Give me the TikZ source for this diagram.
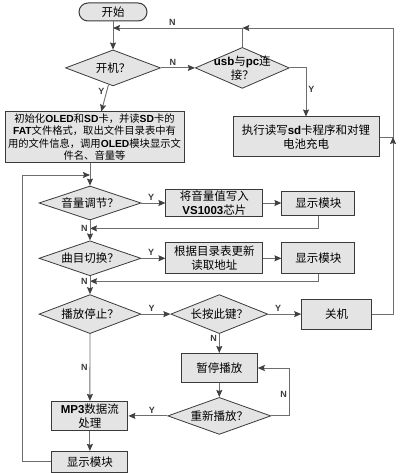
\documentclass[tikz,border=0pt]{standalone}
\usepackage{fontspec}
\setmainfont{Noto Sans CJK SC}
\newfontfamily\latf{Liberation Sans}
\usepackage{tikz}
\usetikzlibrary{arrows.meta,shapes.geometric,positioning,calc}
\definecolor{fundo}{HTML}{E4E4E4}
\definecolor{borda}{HTML}{3A3A3A}
\definecolor{linha}{HTML}{6E6E6E}
\definecolor{ponta}{HTML}{404040}
\tikzset{
  caixa/.style={rectangle, draw=borda, fill=fundo, line width=1pt, align=center,
    inner sep=1pt, font=\fontsize{11.5}{13.5}\selectfont},
  inicio/.style={caixa, rounded corners=9pt, minimum width=68pt, minimum height=18pt},
  losango/.style={diamond, aspect=3, draw=borda, fill=fundo, line width=0.8pt, align=center,
    inner sep=0pt, font=\fontsize{11.5}{13.5}\selectfont},
  seta/.style={-{Stealth[length=7pt,width=6pt,inset=1pt,color=ponta]}, draw=linha, line width=0.9pt},
  rotulo/.style={font=\latf\bfseries\fontsize{9}{10}\selectfont, text=borda, inner sep=2pt},
}
\newcommand{\en}[1]{{\latf\bfseries #1}}

\begin{document}
\begin{tikzpicture}[x=1pt, y=1pt, node distance=18pt and 24pt]
    \useasboundingbox (0,0) rectangle (400,-473);
    \node[inicio] (start) at (113,-12) {开始};
    \node[losango, minimum width=95pt, minimum height=36pt, below=28pt of start] (on) {开机？};
    \node[losango, aspect=2.3, inner xsep=-12pt, minimum width=94pt, minimum height=41pt, right=34pt of on] (usb) {\en{usb}与\en{pc}连\\接？};
    \node[caixa, minimum width=179pt, minimum height=50pt, font=\fontsize{10.3}{12.5}\selectfont] (init) at (94.5,-137)
      {初始化\en{OLED}和\en{SD}卡，并读\en{SD}卡的\\\en{FAT}文件格式，取出文件目录表中有\\用的文件信息，调用\en{OLED}模块显示文\\件名、音量等};
    \node[caixa, minimum width=146pt, minimum height=40pt] (chg) at (306,-137) {执行读写\en{sd}卡程序和对锂\\电池充电};
    \node[losango, minimum width=102pt, minimum height=34pt] (vol) at (90,-203) {音量调节？};
    \node[caixa, minimum width=97pt, minimum height=26pt, right=24pt of vol] (vbox) {将音量值写入\\\en{VS1003}芯片};
    \node[caixa, minimum width=73pt, minimum height=24pt, right=18pt of vbox] (vdisp) {显示模块};
    \node[losango, minimum width=102pt, minimum height=35pt, below=20pt of vol] (trk) {曲目切换？};
    \node[caixa, minimum width=97pt, minimum height=31pt, right=24pt of trk] (tbox) {根据目录表更新\\读取地址};
    \node[caixa, minimum width=73pt, minimum height=31pt, right=18pt of tbox] (tdisp) {显示模块};
    \node[losango, minimum width=102pt, minimum height=39pt, below=18pt of trk] (stop) {播放停止？};
    \node[losango, minimum width=97pt, minimum height=39pt, right=29pt of stop] (hold) {长按此键？};
    \node[caixa, minimum width=70pt, minimum height=30pt, right=33pt of hold] (off) {关机};
    \node[caixa, minimum width=76pt, minimum height=29pt, below=19pt of hold] (pause) {暂停播放};
    \node[losango, minimum width=103pt, minimum height=37pt, below=14pt of pause] (again) {重新播放？};
    \node[caixa, minimum width=76pt, minimum height=29pt, left=39pt of again] (mp3) {\en{MP3}数据流\\处理};
    \node[caixa, minimum width=76pt, minimum height=21pt, below=20pt of mp3] (mdisp) {显示模块};
    \coordinate (rtop) at (393,-28);
    \coordinate (lft) at (22,-175);
    \draw[seta] (start) -- (on);
    \draw[seta] (on) -- node[rotulo, above, pos=0.35] {N} (usb);
    \draw[seta] (on) -- node[rotulo, left, pos=0.25] {Y} (init);
    \draw[seta] (usb.east) -| node[rotulo, right, pos=0.72] {Y} (chg.north);
    \draw[seta] (usb.north) |- node[rotulo, above, pos=0.77] {N} (start.south |- rtop);
    \draw[seta] (chg.east) -| (rtop) -- (usb.north |- rtop);
    \draw[seta] (off.east) -| (chg.east -| rtop);
    \draw[seta] (init.south -| vol.north) -- (vol.north);
    \draw[seta] (mdisp.west) -| (lft) -- (vol.north |- lft);
    \draw[seta] (vol) -- node[rotulo, above, pos=0.4] {Y} (vbox);
    \draw[seta] (vbox) -- (vdisp);
    \draw[seta] (vdisp.south) |- ($(vol.south)+(0,-8pt)$);
    \draw[seta] (vol) -- node[rotulo, left, pos=0.4] {N} (trk);
    \draw[seta] (trk) -- node[rotulo, above, pos=0.4] {Y} (tbox);
    \draw[seta] (tbox) -- (tdisp);
    \draw[seta] (tdisp.south) |- ($(trk.south)+(0,-5pt)$);
    \draw[seta] (trk) -- node[rotulo, left, pos=0.3] {N} (stop);
    \draw[seta] (stop) -- node[rotulo, above, pos=0.35] {Y} (hold);
    \draw[seta] (hold) -- node[rotulo, above, pos=0.3] {Y} (off);
    \draw[seta] (hold) -- node[rotulo, left, pos=0.25] {N} (pause);
    \draw[seta] (pause) -- (again);
    \draw[seta] (again.east) -- ++(18pt,0) |- node[rotulo, left, pos=0.22] {N} (pause.east);
    \draw[seta] (again) -- node[rotulo, above, pos=0.4] {Y} (mp3);
    \draw[seta] (stop) -- node[rotulo, left, pos=0.5] {N} (mp3);
    \draw[seta] (mp3) -- (mdisp);
\end{tikzpicture}
\end{document}
